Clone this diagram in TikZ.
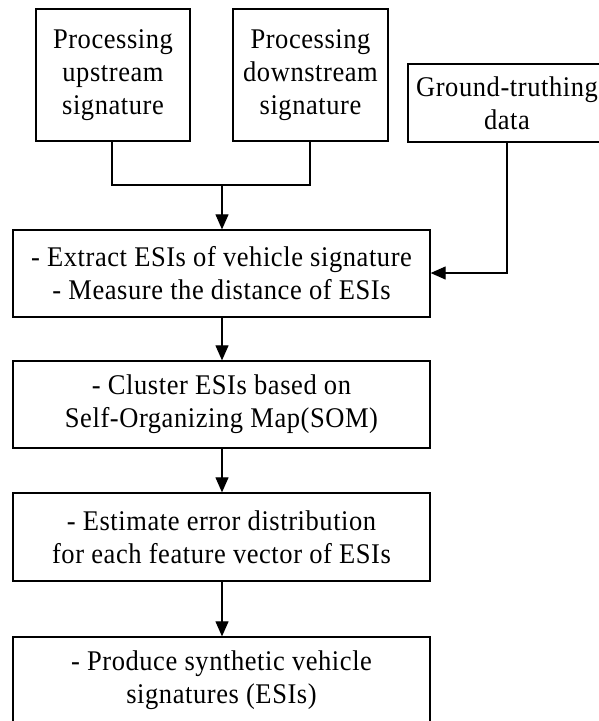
\documentclass[tikz,border=0pt]{standalone}
\usepackage{fontspec}
\setmainfont{Liberation Serif}[LetterSpace=2,FakeStretch=0.93]
\usetikzlibrary{arrows.meta}
\begin{document}
\begin{tikzpicture}[x=1pt,y=-1pt,
  box/.style={draw, line width=1.3pt, rectangle, align=center, inner sep=0pt,
    font=\fontsize{28.5}{33}\selectfont},
  conn/.style={line width=1.1pt},
  arr/.style={conn, -{Triangle[width=13pt,length=15pt]}}]
\clip (0,0) rectangle (599,721);
\fill[white] (0,0) rectangle (599,721);
\node[box, minimum width=154, minimum height=132] (A) at (113,75) {Processing\\upstream\\signature};
\node[box, minimum width=155, minimum height=132] (B) at (310.5,75) {Processing\\downstream\\signature};
\node[box, minimum width=198, minimum height=78] (C) at (507,103) {Ground-truthing\\data};
\node[box, minimum width=417, minimum height=87] (D) at (221.5,273.5) {- Extract ESIs of vehicle signature\\- Measure the distance of ESIs};
\node[box, minimum width=417, minimum height=87] (E) at (221.5,404.5) {- Cluster ESIs based on\\Self-Organizing Map(SOM)};
\node[box, minimum width=417, minimum height=88] (F) at (221.5,537) {- Estimate error distribution\\for each feature vector of ESIs};
\node[box, minimum width=417, minimum height=87] (G) at (221.5,680.5) {- Produce synthetic vehicle\\signatures (ESIs)};
\coordinate (j) at (222,185);
\draw[conn] (A.south -| 112,0) |- (j) -| (B.south -| 310,0);
\draw[arr] (j) -- (D.north -| j);
\draw[arr] (C.south -| 507,0) |- (D.east |- 0,273);
\draw[arr] (D.south -| j) -- (E.north -| j);
\draw[arr] (E.south -| j) -- (F.north -| j);
\draw[arr] (F.south -| j) -- (G.north -| j);
\end{tikzpicture}
\end{document}
